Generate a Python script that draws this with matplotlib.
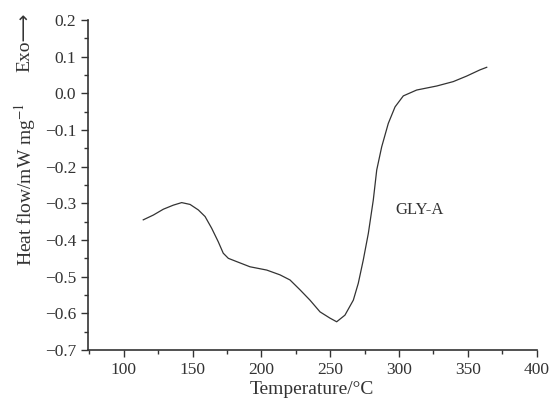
import matplotlib
matplotlib.use('Agg')
import matplotlib.pyplot as plt
from matplotlib.ticker import MultipleLocator

# Data
temperature = [114.2, 121.5, 128.8, 136.0, 142.1, 148.2, 154.2, 159.1, 163.9, 168.7,
               172.3, 176.0, 182.1, 191.7, 203.9, 213.5, 220.8, 228.1, 235.3, 242.6,
               249.8, 254.7, 260.7, 266.8, 270.4, 274.0, 277.7, 281.3, 283.8, 287.4,
               292.2, 297.1, 303.1, 312.8, 327.4, 339.4, 349.1, 358.8, 363.7]
heat_flow = [-0.345, -0.332, -0.316, -0.305, -0.298, -0.303, -0.318, -0.336, -0.368, -0.405,
             -0.436, -0.450, -0.459, -0.473, -0.482, -0.495, -0.509, -0.536, -0.564, -0.596,
             -0.613, -0.623, -0.605, -0.564, -0.518, -0.455, -0.382, -0.291, -0.209, -0.146,
             -0.082, -0.037, -0.007, 0.009, 0.020, 0.032, 0.047, 0.064, 0.071]
sample_label = 'GLY-A'

plt.rcParams['font.family'] = ['Liberation Serif', 'DejaVu Serif']
plt.rcParams['mathtext.fontset'] = 'stix'

fig = plt.figure(figsize=(5.53, 4.0), dpi=100)
ax = fig.add_axes([0.159, 0.125, 0.8115, 0.825])

ax.plot(temperature, heat_flow, color='#333333', linewidth=0.9)
ax.text(315, -0.318, sample_label, fontsize=12, color='#333333', ha='center', va='center')

ax.set_xlim(74, 400)
ax.set_ylim(-0.7, 0.2)
ax.xaxis.set_minor_locator(MultipleLocator(25))
ax.yaxis.set_minor_locator(MultipleLocator(0.05))
ax.set_xticks([100, 150, 200, 250, 300, 350, 400])
ax.set_yticks([0.2, 0.1, 0.0, -0.1, -0.2, -0.3, -0.4, -0.5, -0.6, -0.7])
ax.set_yticklabels(['0.2', '0.1', '0.0', '\u22120.1', '\u22120.2', '\u22120.3',
                    '\u22120.4', '\u22120.5', '\u22120.6', '\u22120.7'])

for s in ['top', 'right']:
    ax.spines[s].set_visible(False)
for s in ['left', 'bottom']:
    ax.spines[s].set_linewidth(1.2)
    ax.spines[s].set_color('#333333')

ax.tick_params(which='major', direction='out', length=5, width=1, labelsize=12.5,
               colors='#333333')
ax.tick_params(which='minor', direction='out', length=3, width=1, colors='#333333')

ax.set_xlabel('Temperature/\u00b0C', fontsize=14, color='#333333', labelpad=2)
fig.text(0.045, 0.54, 'Heat flow/mW mg$^{-1}$', rotation=90, fontsize=14,
         color='#333333', ha='center', va='center')
fig.text(0.045, 0.895, 'Exo\u27f6', rotation=90, fontsize=14,
         color='#333333', ha='center', va='center',
         family=['Liberation Serif', 'DejaVu Sans'])

fig.savefig('out.png', dpi=100)
